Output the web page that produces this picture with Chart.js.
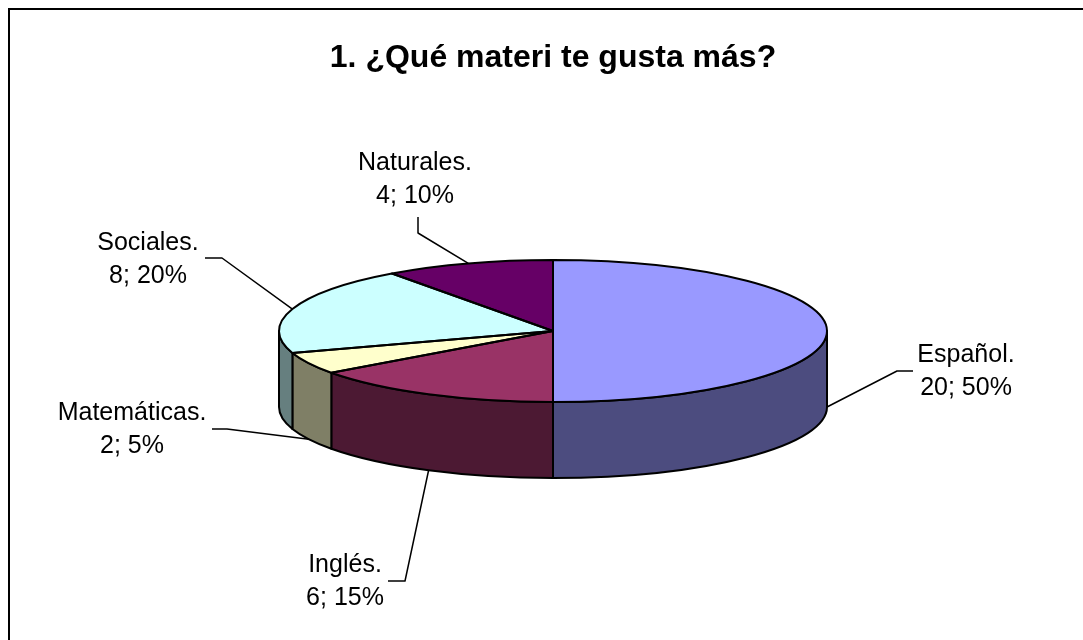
<!DOCTYPE html>
<html>
<head>
<meta charset="utf-8">
<title>1. ¿Qué materi te gusta más?</title>
<script src="https://cdn.jsdelivr.net/npm/chart.js@4/dist/chart.umd.min.js"></script>
<style>
  html, body { margin: 0; padding: 0; background: #fff; }
  canvas { display: block; }
</style>
</head>
<body>
<canvas id="my-chart" width="1083" height="640"></canvas>
<script>
'use strict';

// ***** DATA *****

let subjects = ['Español', 'Inglés', 'Matemáticas', 'Sociales', 'Naturales'];
let answers = [20, 6, 2, 8, 4];
let sliceColors = ['#9999FF', '#993366', '#FFFFCC', '#CCFFFF', '#660066'];

// ***** CANVAS REFERENCE *****

let ctx = document.getElementById('my-chart').getContext('2d');

// ***** HELPER FUNCTIONS *****

// darker colour for the side wall of the pie
function shade(hex){
  let r = Math.floor(parseInt(hex.slice(1, 3), 16) / 2);
  let g = Math.floor(parseInt(hex.slice(3, 5), 16) / 2);
  let b = Math.floor(parseInt(hex.slice(5, 7), 16) / 2);
  return `rgb(${r}, ${g}, ${b})`;
}

// ***** PLUGINS *****

let chartFrame = {
  id: 'chartFrame',
  beforeDraw(chart){
    let c = chart.ctx;
    c.save();
    c.strokeStyle = '#000';
    c.lineWidth = 2;
    c.strokeRect(9, 9, chart.width + 10, chart.height + 10);
    c.restore();
  }
};

// squashes the pie into an ellipse and adds a side wall
let pie3d = {
  id: 'pie3d',
  beforeDatasetsDraw(chart, args, opts){
    let arcs = chart.getDatasetMeta(0).data;
    let c = chart.ctx;
    let cx = arcs[0].x;
    let cy = opts.centerY;
    let rx = arcs[0].outerRadius;
    let ry = opts.ry;
    let depth = opts.depth;

    c.save();
    c.strokeStyle = '#000';
    c.lineWidth = opts.lineWidth;
    c.lineJoin = 'round';
    for(let i = 0; i < arcs.length; i++){
      let s = Math.max(arcs[i].startAngle, 0);
      let e = Math.min(arcs[i].endAngle, Math.PI);
      if(s >= e) continue;
      c.beginPath();
      c.ellipse(cx, cy, rx, ry, 0, s, e);
      c.lineTo(cx + rx * Math.cos(e), cy + depth + ry * Math.sin(e));
      c.ellipse(cx, cy + depth, rx, ry, 0, e, s, true);
      c.closePath();
      c.fillStyle = shade(sliceColors[i]);
      c.fill();
      c.stroke();
    }
    c.restore();

    c.save();
    c.translate(cx, cy);
    c.scale(1, ry / rx);
    c.translate(-cx, -arcs[0].y);
  },
  afterDatasetsDraw(chart, args, opts){
    let arcs = chart.getDatasetMeta(0).data;
    let c = chart.ctx;
    c.restore();

    let cx = arcs[0].x;
    let cy = opts.centerY;
    let rx = arcs[0].outerRadius;
    let ry = opts.ry;
    let depth = opts.depth;
    let values = chart.data.datasets[0].data;
    let total = values.reduce((a, b) => a + b, 0);

    c.save();
    c.strokeStyle = '#000';
    c.lineWidth = opts.lineWidth;
    c.lineJoin = 'round';
    for(let i = 0; i < arcs.length; i++){
      c.beginPath();
      c.moveTo(cx, cy);
      c.ellipse(cx, cy, rx, ry, 0, arcs[i].startAngle, arcs[i].endAngle);
      c.closePath();
      c.stroke();
    }

    // data labels with leader lines
    c.font = opts.font;
    c.fillStyle = '#000';
    c.textAlign = 'center';
    c.textBaseline = 'alphabetic';
    c.lineWidth = 1.5;
    for(let i = 0; i < arcs.length; i++){
      let lab = opts.labels[i];
      let pct = Math.round(values[i] / total * 100);
      c.fillText(`${chart.data.labels[i]}.`, lab.x, lab.y);
      c.fillText(`${values[i]}; ${pct}%`, lab.x, lab.y + opts.lineGap);

      let mid = (arcs[i].startAngle + arcs[i].endAngle) / 2;
      let px = cx + rx * Math.cos(mid);
      let py = cy + ry * Math.sin(mid);
      if(Math.sin(mid) > -0.001) py += depth;
      c.beginPath();
      c.moveTo(lab.lead[0][0], lab.lead[0][1]);
      c.lineTo(lab.lead[1][0], lab.lead[1][1]);
      c.lineTo(px, py);
      c.stroke();
    }
    c.restore();
  }
};

// ***** CHART *****

function renderChart(){
  let myChartObj = {
    type: 'pie',
    data: {
      labels: subjects,
      datasets: [{
        data: answers,
        backgroundColor: sliceColors,
        borderWidth: 0,
        hoverOffset: 0,
        clip: false
      }]
    },
    options: {
      responsive: false,
      animation: false,
      events: [],
      layout: {
        padding: { left: 279, right: 256, top: 0, bottom: 0 }
      },
      plugins: {
        legend: { display: false },
        tooltip: { enabled: false },
        title: {
          display: true,
          text: '1. ¿Qué materi te gusta más?',
          color: '#000',
          font: { family: '"Liberation Sans", Arial, sans-serif', size: 32, weight: 'bold' },
          padding: { top: 39, bottom: 0 }
        },
        pie3d: {
          centerY: 331,
          ry: 71,
          depth: 76,
          lineWidth: 2,
          font: '25px "Liberation Sans", Arial, sans-serif',
          lineGap: 33,
          labels: [
            { x: 966, y: 362, lead: [[913, 371], [897, 371]] },
            { x: 345, y: 572, lead: [[388, 581], [405, 581]] },
            { x: 132, y: 420, lead: [[212, 429], [227, 429]] },
            { x: 148, y: 250, lead: [[205, 258], [222, 258]] },
            { x: 415, y: 170, lead: [[418, 217], [418, 233]] }
          ]
        }
      }
    },
    plugins: [chartFrame, pie3d]
  };

  new Chart(ctx, myChartObj);
}

renderChart();
</script>
</body>
</html>
